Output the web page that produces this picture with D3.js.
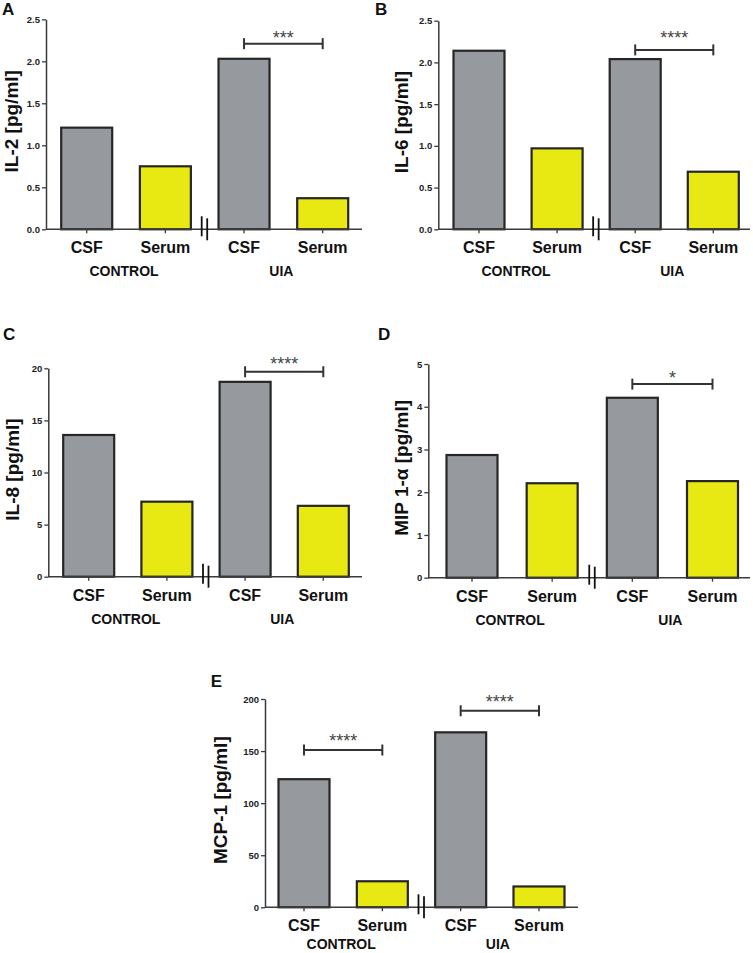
<!DOCTYPE html>
<html><head><meta charset="utf-8">
<script src="https://cdn.jsdelivr.net/npm/d3@7"></script>
<style>body{margin:0;background:#fff} text{font-family:"Liberation Sans",Arial,Helvetica,sans-serif}</style>
</head><body><svg id="c" width="753" height="953"></svg>
<script>
// ---- data ----
const categories = ["CSF", "Serum", "CSF", "Serum"];
const groups = ["CONTROL", "UIA"];
const il2 = [1.21, 0.75, 2.03, 0.37];
const il6 = [2.14, 0.97, 2.04, 0.69];
const il8 = [13.6, 7.2, 18.7, 6.8];
const mip1a = [2.87, 2.21, 4.21, 2.26];
const mcp1 = [123, 25, 168, 20];
const il2Ticks = [0, 0.5, 1.0, 1.5, 2.0, 2.5];
const il6Ticks = [0, 0.5, 1.0, 1.5, 2.0, 2.5];
const il8Ticks = [0, 5, 10, 15, 20];
const mip1aTicks = [0, 1, 2, 3, 4, 5];
const mcp1Ticks = [0, 50, 100, 150, 200];
const sigIl2 = [{from: 2, to: 3, level: 2.21, label: "***"}];
const sigIl6 = [{from: 2, to: 3, level: 2.15, label: "****"}];
const sigIl8 = [{from: 2, to: 3, level: 19.67, label: "****"}];
const sigMip1a = [{from: 2, to: 3, level: 4.53, label: "*"}];
const sigMcp1 = [{from: 0, to: 1, level: 151, label: "****"}, {from: 2, to: 3, level: 188.7, label: "****"}];
const barColors = ["#96999d", "#e8e813", "#96999d", "#e8e813"];

// ---- layout ----
const panels = [
  {letter: "A", lx: 2, ly: 15, values: il2, ticks: il2Ticks, fmt: ".1f", ylabel: "IL-2 [pg/ml]", sig: sigIl2,
   axisX: 46, y0: 229.3, yTop: 19.3, c0: 86.7, c3: 322.7, xEnd: 362, ylabX: 18, starGap: [10], grpOff: 47},
  {letter: "B", lx: 375, ly: 15, values: il6, ticks: il6Ticks, fmt: ".1f", ylabel: "IL-6 [pg/ml]", sig: sigIl6,
   axisX: 438.3, y0: 229.3, yTop: 20.7, c0: 479, c3: 713.3, xEnd: 750, ylabX: 408.3, starGap: [16], grpOff: 47},
  {letter: "C", lx: 3, ly: 340, values: il8, ticks: il8Ticks, fmt: "d", ylabel: "IL-8 [pg/ml]", sig: sigIl8,
   axisX: 48.3, y0: 576.7, yTop: 368.3, c0: 88.7, c3: 323.3, xEnd: 362, ylabX: 19, starGap: [12], grpOff: 47},
  {letter: "D", lx: 378, ly: 340, values: mip1a, ticks: mip1aTicks, fmt: "d", ylabel: "MIP 1-α [pg/ml]", sig: sigMip1a,
   axisX: 428.3, y0: 577.7, yTop: 364, c0: 472, c3: 712.5, xEnd: 750, ylabX: 408, starGap: [10], grpOff: 47},
  {letter: "E", lx: 210.7, ly: 687, values: mcp1, ticks: mcp1Ticks, fmt: "d", ylabel: "MCP-1 [pg/ml]", sig: sigMcp1,
   axisX: 265, y0: 907.3, yTop: 699, c0: 304, c3: 539, xEnd: 578, ylabX: 227, starGap: [13, 12.4], grpOff: 41.5}
];

const svg = d3.select("#c");
const axisCol = "#3a3a3a";
const barW = 51;

panels.forEach(p => {
  const g = svg.append("g");
  const y = d3.scaleLinear().domain([p.ticks[0], p.ticks[p.ticks.length - 1]]).range([p.y0, p.yTop]);
  const x = d3.scalePoint().domain(d3.range(categories.length)).range([p.c0, p.c3]);

  // panel letter
  g.append("text").attr("x", p.lx).attr("y", p.ly).text(p.letter)
    .attr("font-size", 17).attr("font-weight", "bold").attr("fill", "#111");

  // bars
  g.selectAll("rect.bar").data(p.values).join("rect").attr("class", "bar")
    .attr("x", (d, i) => x(i) - barW / 2).attr("width", barW)
    .attr("y", d => y(d)).attr("height", d => y(0) - y(d))
    .attr("fill", (d, i) => barColors[i]).attr("stroke", "#262626").attr("stroke-width", 2.2);

  // y axis
  const ax = g.append("g").attr("transform", `translate(${p.axisX},0)`)
    .call(d3.axisLeft(y).tickValues(p.ticks).tickFormat(d3.format(p.fmt)).tickSize(4).tickSizeOuter(0).tickPadding(2));
  ax.select(".domain").attr("stroke", axisCol).attr("stroke-width", 1.5);
  ax.selectAll(".tick line").attr("stroke", axisCol).attr("stroke-width", 1.3);
  ax.selectAll(".tick text").attr("font-size", 9.5).attr("font-weight", "bold").attr("fill", "#222")
    .attr("font-family", '"Liberation Sans",Arial,sans-serif');

  // x axis line
  g.append("line").attr("x1", p.axisX).attr("x2", p.xEnd).attr("y1", p.y0).attr("y2", p.y0)
    .attr("stroke", axisCol).attr("stroke-width", 1.5);
  // x ticks
  g.selectAll("line.xt").data(categories).join("line").attr("class", "xt")
    .attr("x1", (d, i) => x(i)).attr("x2", (d, i) => x(i))
    .attr("y1", p.y0).attr("y2", p.y0 + 4).attr("stroke", axisCol).attr("stroke-width", 1.3);

  // axis break marks
  const mid = (x(1) + x(2)) / 2;
  g.append("line").attr("x1", mid - 3).attr("x2", mid - 3).attr("y1", p.y0 - 13).attr("y2", p.y0 + 7)
    .attr("stroke", "#111").attr("stroke-width", 1.8);
  g.append("line").attr("x1", mid + 2.5).attr("x2", mid + 2.5).attr("y1", p.y0 - 11).attr("y2", p.y0 + 11)
    .attr("stroke", "#111").attr("stroke-width", 1.8);

  // category labels
  g.selectAll("text.cat").data(categories).join("text").attr("class", "cat")
    .attr("x", (d, i) => x(i)).attr("y", p.y0 + 24).attr("text-anchor", "middle")
    .attr("font-size", 16).attr("font-weight", "bold").attr("fill", "#111").text(d => d);
  // group labels
  g.selectAll("text.grp").data(groups).join("text").attr("class", "grp")
    .attr("x", (d, i) => (x(2 * i) + x(2 * i + 1)) / 2 - 2).attr("y", p.y0 + p.grpOff).attr("text-anchor", "middle")
    .attr("font-size", 14).attr("font-weight", "bold").attr("fill", "#111").text(d => d);

  // y label
  g.append("text").attr("transform", `translate(${p.ylabX},${(p.y0 + p.yTop) / 2 - 3}) rotate(-90)`)
    .attr("text-anchor", "middle").attr("font-size", 19).attr("font-weight", "bold").attr("fill", "#111")
    .text(p.ylabel);

  // significance brackets
  p.sig.forEach((s, k) => {
    const sy = y(s.level), xa = x(s.from), xb = x(s.to);
    g.append("line").attr("x1", xa).attr("x2", xb).attr("y1", sy).attr("y2", sy).attr("stroke", "#333").attr("stroke-width", 2);
    [xa, xb].forEach(xx => g.append("line").attr("x1", xx).attr("x2", xx).attr("y1", sy - 5.5).attr("y2", sy + 5.5)
      .attr("stroke", "#333").attr("stroke-width", 2));
    g.append("text").attr("x", (xa + xb) / 2).attr("y", sy - p.starGap[k] + 10).attr("text-anchor", "middle")
      .attr("font-size", 18).attr("fill", "#444").text(s.label);
  });
});
</script></body></html>
